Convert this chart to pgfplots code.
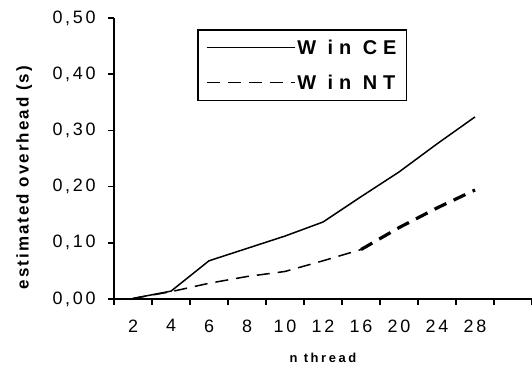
\documentclass[border=0pt]{standalone}
\usepackage{fontspec}
\setmainfont{Liberation Sans}
\usepackage{pgfplots}
\pgfplotsset{compat=1.18}
\newfontfamily\tickf[LetterSpace=15]{Liberation Sans}
\newfontfamily\labf[LetterSpace=20]{Liberation Sans Bold}
\newfontfamily\ylabf[LetterSpace=12]{Liberation Sans Bold}
\newfontfamily\legf[LetterSpace=30]{Liberation Sans Bold}
\begin{document}
\begin{tikzpicture}[x=1bp,y=1bp]
\useasboundingbox (0,0) rectangle (532,369);
\begin{axis}[
  at={(114bp,70bp)}, anchor=south west,
  scale only axis, width=418bp, height=281bp,
  xmin=-0.5, xmax=10.5, ymin=0, ymax=0.5,
  axis lines*=left,
  axis line style={line width=1.6bp, -},
  tick style={line width=1.6bp, black},
  tick align=outside, major tick length=6bp,
  xtick={-0.5,0.5,...,10.5},
  xticklabels={2,4,6,8,10,12,16,20,24,28,{},{}},
  xticklabel style={font=\tickf\fontsize{18}{20}\selectfont, xshift=19bp, yshift=-11bp},
  ytick={0,0.1,...,0.5},
  yticklabel style={font=\tickf\fontsize{18}{20}\selectfont, xshift=-9bp},
  /pgf/number format/.cd, fixed, fixed zerofill, precision=2, use comma, assume math mode=true,
  /pgfplots/.cd,
  xlabel={n thread},
  xlabel style={font=\labf\fontsize{13}{15}\selectfont, at={(axis description cs:0.5,-0.21)}, anchor=center},
  ylabel={estimated overhead (s)},
  ylabel style={font=\ylabf\fontsize{17}{19}\selectfont, at={(axis description cs:-0.215,0.432)}, anchor=center},
  legend style={at={(axis description cs:0.1986,0.961)}, anchor=north west,
    draw=black, line width=1.6bp, inner xsep=8bp, inner ysep=8bp,
    font=\legf\fontsize{20}{22}\selectfont, row sep=15bp,
    /tikz/every even column/.append style={column sep=0bp}},
  legend cell align=left,
  legend image code/.code={\draw[#1, line width=1.5bp] (0bp,0bp) -- (88bp,0bp);},
  clip=false,
]
\addplot[black, line width=1.5bp] coordinates {
(0,0.001) (1,0.014) (2,0.068) (3,0.090) (4,0.112) (5,0.137) (6,0.182) (7,0.226) (8,0.276) (9,0.324)};
\addlegendentry{W in CE}
\addplot[black, line width=1.5bp, dash pattern=on 13bp off 8bp] coordinates {
(0,0.001) (1,0.013) (2,0.028) (3,0.040) (4,0.049) (5,0.068) (6,0.088)};
\addlegendentry{W in NT}
\addplot[black, line width=3.2bp, dash pattern=on 13bp off 8bp, forget plot] coordinates {
(6,0.088) (7,0.127) (8,0.162) (9,0.194)};
\end{axis}
\end{tikzpicture}
\end{document}
